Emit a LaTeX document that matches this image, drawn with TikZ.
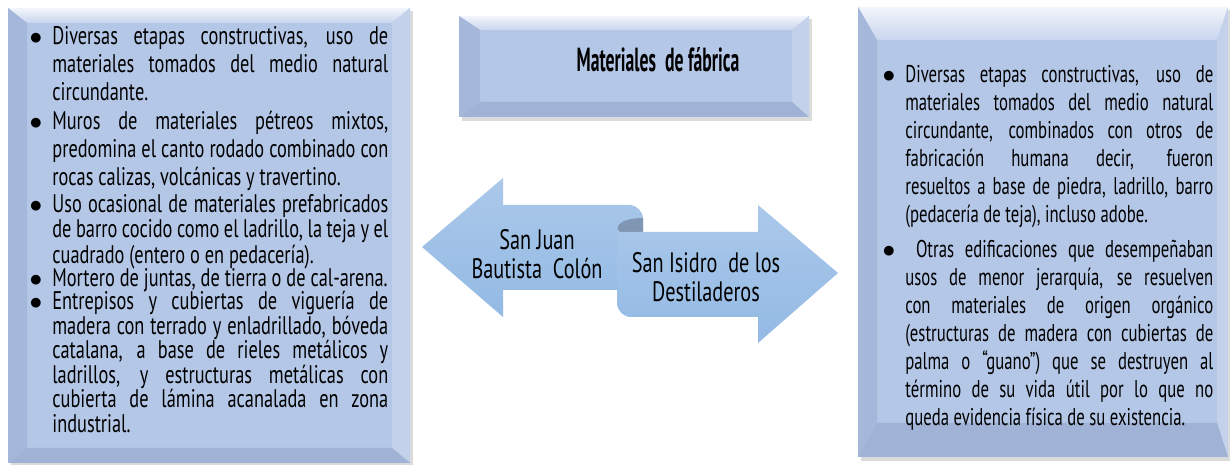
\documentclass[tikz,border=0pt]{standalone}
\usepackage{fontspec}
\setmainfont{PT Sans}[FakeStretch=0.72]
\newfontfamily\rightfont{PT Sans}[FakeStretch=0.69]
\newfontfamily\arrowfont{PT Sans}[FakeStretch=0.72]
\newfontfamily\titlefont{PT Sans}[FakeStretch=0.53]
\usetikzlibrary{positioning}

\definecolor{facecol}{HTML}{B4C7E7}
\definecolor{bevtopA}{HTML}{F2F5FB}
\definecolor{bevtopB}{HTML}{C9D6EE}
\definecolor{bevleftcol}{HTML}{A5B8DB}
\definecolor{bevrightcol}{HTML}{C3D1EB}
\definecolor{bevbotcol}{HTML}{A0B3D7}
\definecolor{arrowA}{HTML}{ABC8EA}
\definecolor{arrowB}{HTML}{93BAE4}
\definecolor{curlcol}{HTML}{8096B2}

\begin{document}
\begin{tikzpicture}[x=0.02cm, y=-0.02cm]
\tikzset{
	face/.style={fill=facecol},
	bevtop/.style={top color=bevtopA, bottom color=bevtopB},
	bevleft/.style={fill=bevleftcol},
	bevright/.style={fill=bevrightcol},
	bevbot/.style={fill=bevbotcol},
	shadow/.style={fill=black!40, opacity=.35},
	arrowfill/.style={top color=arrowA, bottom color=arrowB},
	item/.style={anchor=base west, inner sep=0pt, align=justify},
	body/.style={font=\fontsize{14.5}{15.9}\selectfont},
	tight/.style={font=\fontsize{14.5}{13.1}\selectfont},
	mid/.style={font=\fontsize{14.5}{13.9}\selectfont},
	rbody/.style={font=\rightfont\fontsize{13.8}{15.9}\selectfont},
	lbl/.style={align=center, inner sep=0pt, font=\arrowfont\fontsize{16}{16.5}\selectfont}
}
\useasboundingbox (0,0) rectangle (1230,465);
\tolerance=10000 \hyphenpenalty=10000

% caja izquierda
\fill[shadow] (11,11) rectangle (413,466);
\fill[face] (8,8) rectangle (410,463);
\shade[bevtop] (8,8) -- (410,8) -- (392,23) -- (27,23) -- cycle;
\fill[bevleft] (8,8) -- (27,23) -- (27,448) -- (8,463) -- cycle;
\fill[bevright] (410,8) -- (410,463) -- (392,448) -- (392,23) -- cycle;
\fill[bevbot] (8,463) -- (27,448) -- (392,448) -- (410,463) -- cycle;

% titulo
\fill[shadow] (462,19) rectangle (812,121);
\fill[face] (459,16) rectangle (809,117);
\shade[bevtop] (459,16) -- (809,16) -- (792,30) -- (480,30) -- cycle;
\fill[bevleft] (459,16) -- (480,30) -- (480,102) -- (459,117) -- cycle;
\fill[bevright] (809,16) -- (809,117) -- (792,102) -- (792,30) -- cycle;
\fill[bevbot] (459,117) -- (480,102) -- (792,102) -- (809,117) -- cycle;
\node[font=\titlefont\fontsize{19}{19}\selectfont\bfseries] (titulo) at (658,60) {Materiales\ \ de fábrica};

% caja derecha
\fill[shadow] (861,10) rectangle (1230,461);
\fill[face] (858,7) rectangle (1228,457);
\shade[bevtop] (858,7) -- (1228,7) -- (1217,40) -- (877,40) -- cycle;
\fill[bevleft] (858,7) -- (877,40) -- (877,423) -- (858,457) -- cycle;
\fill[bevright] (1228,7) -- (1228,457) -- (1217,423) -- (1217,40) -- cycle;
\fill[bevbot] (858,457) -- (877,423) -- (1217,423) -- (1228,457) -- cycle;

% flechas
\shade[arrowfill] (422,247) -- (503,178) -- (503,205) -- (633,205)
	[rounded corners=8] -- (643,205) -- (643,290) [sharp corners] -- (503,290) -- (503,317) -- cycle;
\fill[curlcol] (643,218) -- (643,233) -- (624,233) .. controls (612,231) and (616,218) .. (643,218);
\shade[arrowfill] (617,232) -- (758,232) -- (758,205) -- (838,273) -- (758,343) -- (758,317)
	[rounded corners=8] -- (617,317) [sharp corners] -- (617,300) -- cycle;
\node[lbl] (sanjuan) at (537,254) {San Juan\\Bautista\ \ Colón};
\node[lbl] (sanisidro) at (706,277) {San Isidro\ \ de los\\Destiladeros};

% texto izquierda
\node[item, body, text width=6.72cm] (l1) at (52,45) {\llap{$\bullet$\hspace{0.2cm}}Diversas etapas constructivas, uso de\linebreak materiales tomados del medio natural\linebreak circundante.};
\node[item, body, text width=6.72cm] (l2) at (52,130) {\llap{$\bullet$\hspace{0.2cm}}Muros de materiales pétreos mixtos,\linebreak predomina el canto rodado combinado con\linebreak rocas calizas, volcánicas y travertino.};
\node[item, tight, text width=6.72cm] (l3) at (52,213) {\llap{$\bullet$\hspace{0.2cm}}Uso ocasional de materiales prefabricados\linebreak de barro cocido como el ladrillo, la teja y el\linebreak cuadrado (entero o en pedacería).};
\node[item, tight, text width=6.72cm] (l4) at (52,287) {\llap{$\bullet$\hspace{0.2cm}}Mortero de juntas, de tierra o de cal-arena.};
\node[item, mid, text width=6.72cm] (l5) at (52,310) {\llap{$\bullet$\hspace{0.2cm}}Entrepisos y cubiertas de viguería de\linebreak madera con terrado y enladrillado, bóveda\linebreak catalana, a base de rieles metálicos y\linebreak ladrillos, y estructuras metálicas con\linebreak cubierta de lámina acanalada en zona\linebreak industrial.};

% texto derecha
\node[item, rbody, text width=6.16cm] (r1) at (905,83) {\llap{$\bullet$\hspace{0.2cm}}Diversas etapas constructivas, uso de\linebreak materiales tomados del medio natural\linebreak circundante, combinados con otros de\linebreak fabricación humana decir, fueron\linebreak resueltos a base de piedra, ladrillo, barro\linebreak (pedacería de teja), incluso adobe.};
\node[item, rbody, text width=6.16cm] (r2) at (905,258) {\llap{$\bullet$\hspace{0.2cm}}\ Otras edificaciones que desempeñaban\linebreak usos de menor jerarquía, se resuelven\linebreak con materiales de origen orgánico\linebreak (estructuras de madera con cubiertas de\linebreak palma o “guano”) que se destruyen al\linebreak término de su vida útil por lo que no\linebreak queda evidencia física de su existencia.};

\end{tikzpicture}
\end{document}
